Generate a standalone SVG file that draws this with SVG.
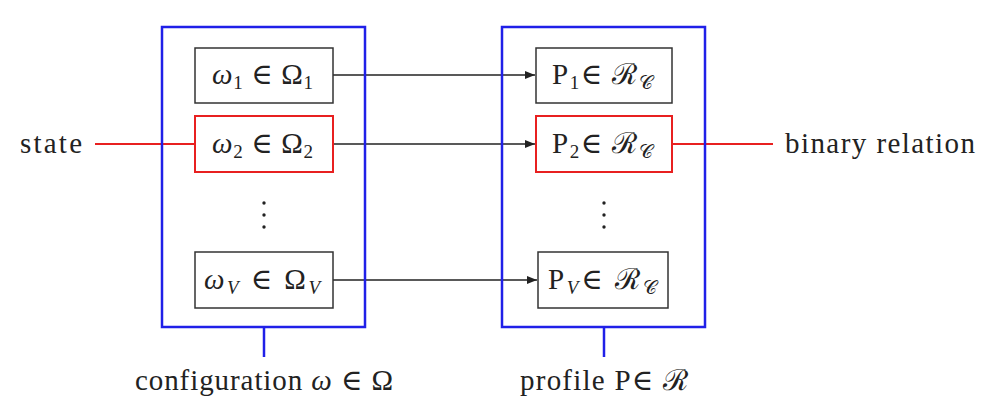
<svg xmlns="http://www.w3.org/2000/svg" width="994" height="408" viewBox="0 0 994 408">
<defs>
<style>
.blue{fill:none;stroke:#2020e8;stroke-width:2.5}
.box{fill:#fff;stroke:#333;stroke-width:1.5}
.rbox{fill:#fff;stroke:#e82020;stroke-width:2}
.conn{stroke:#222;stroke-width:1.3;fill:none}
.red{stroke:#e82020;stroke-width:2;fill:none}
.stem{stroke:#2020e8;stroke-width:2.5}
text{font-family:"Liberation Serif","DejaVu Serif",serif;fill:#222}
.lbl{font-size:29px}
.math{font-size:29px}
.sub{font-size:19px}
.dot{fill:#222}
</style>
<marker id="arr" viewBox="0 0 10 8" refX="10" refY="4" markerWidth="10" markerHeight="8" markerUnits="userSpaceOnUse" orient="auto">
<path d="M0,0 L10,4 L0,8 z" fill="#222"/>
</marker>
</defs>
<rect width="994" height="408" fill="#fff"/>

<g id="connectors">
<line class="red" x1="95" y1="144" x2="195" y2="144"/>
<line class="red" x1="672" y1="144" x2="773" y2="144"/>
<line class="conn" x1="333" y1="75" x2="535" y2="75" marker-end="url(#arr)"/>
<line class="conn" x1="333" y1="144" x2="535" y2="144" marker-end="url(#arr)"/>
<line class="conn" x1="333" y1="280" x2="537" y2="280" marker-end="url(#arr)"/>
<line class="stem" x1="264" y1="327" x2="264" y2="357"/>
<line class="stem" x1="604" y1="327" x2="604" y2="357"/>
</g>

<g id="configuration">
<rect class="blue" x="162" y="27" width="203" height="300"/>
<text class="lbl" x="135" y="390" textLength="258" lengthAdjust="spacing">configuration <tspan font-style="italic">ω</tspan> ∈ Ω</text>
</g>
<g id="profile">
<rect class="blue" x="502" y="27" width="203" height="300"/>
<text class="lbl" x="520" y="390" textLength="168" lengthAdjust="spacing">profile P∈ ℛ</text>
</g>

<g id="omega1">
<rect class="box" x="195" y="48" width="138" height="55"/>
<text class="math" x="212" y="84" textLength="101" lengthAdjust="spacing"><tspan font-style="italic">ω</tspan><tspan class="sub" dy="5">1</tspan><tspan dy="-5"> ∈ Ω</tspan><tspan class="sub" dy="5">1</tspan></text>
</g>
<g id="omega2">
<rect class="rbox" x="195" y="116" width="138" height="56"/>
<text class="math" x="212" y="153" textLength="101" lengthAdjust="spacing"><tspan font-style="italic">ω</tspan><tspan class="sub" dy="5">2</tspan><tspan dy="-5"> ∈ Ω</tspan><tspan class="sub" dy="5">2</tspan></text>
</g>
<g id="omegaDots">
<circle class="dot" cx="264" cy="203" r="1.7"/>
<circle class="dot" cx="264" cy="215" r="1.7"/>
<circle class="dot" cx="264" cy="227" r="1.7"/>
</g>
<g id="omegaV">
<rect class="box" x="195" y="252" width="138" height="56"/>
<text class="math" x="204" y="289" textLength="116" lengthAdjust="spacing"><tspan font-style="italic">ω</tspan><tspan class="sub" font-style="italic" dy="5">V</tspan><tspan dy="-5"> ∈ Ω</tspan><tspan class="sub" font-style="italic" dy="5">V</tspan></text>
</g>

<g id="P1">
<rect class="box" x="536" y="48" width="136" height="55"/>
<text class="math" x="552" y="84" textLength="101" lengthAdjust="spacing">P<tspan class="sub" dy="5">1</tspan><tspan dy="-5">∈ ℛ</tspan><tspan class="sub" dy="5">𝒞</tspan></text>
</g>
<g id="P2">
<rect class="rbox" x="536" y="116" width="136" height="56"/>
<text class="math" x="552" y="153" textLength="101" lengthAdjust="spacing">P<tspan class="sub" dy="5">2</tspan><tspan dy="-5">∈ ℛ</tspan><tspan class="sub" dy="5">𝒞</tspan></text>
</g>
<g id="PDots">
<circle class="dot" cx="604" cy="203" r="1.7"/>
<circle class="dot" cx="604" cy="215" r="1.7"/>
<circle class="dot" cx="604" cy="227" r="1.7"/>
</g>
<g id="PV">
<rect class="box" x="538" y="252" width="130" height="56"/>
<text class="math" x="548" y="289" textLength="109" lengthAdjust="spacing">P<tspan class="sub" font-style="italic" dy="5">V</tspan><tspan dy="-5">∈ ℛ</tspan><tspan class="sub" dy="5">𝒞</tspan></text>
</g>

<g id="state">
<text class="lbl" x="20" y="153" textLength="62" lengthAdjust="spacing">state</text>
</g>
<g id="binary">
<text class="lbl" x="785" y="153" textLength="190" lengthAdjust="spacing">binary relation</text>
</g>
</svg>
